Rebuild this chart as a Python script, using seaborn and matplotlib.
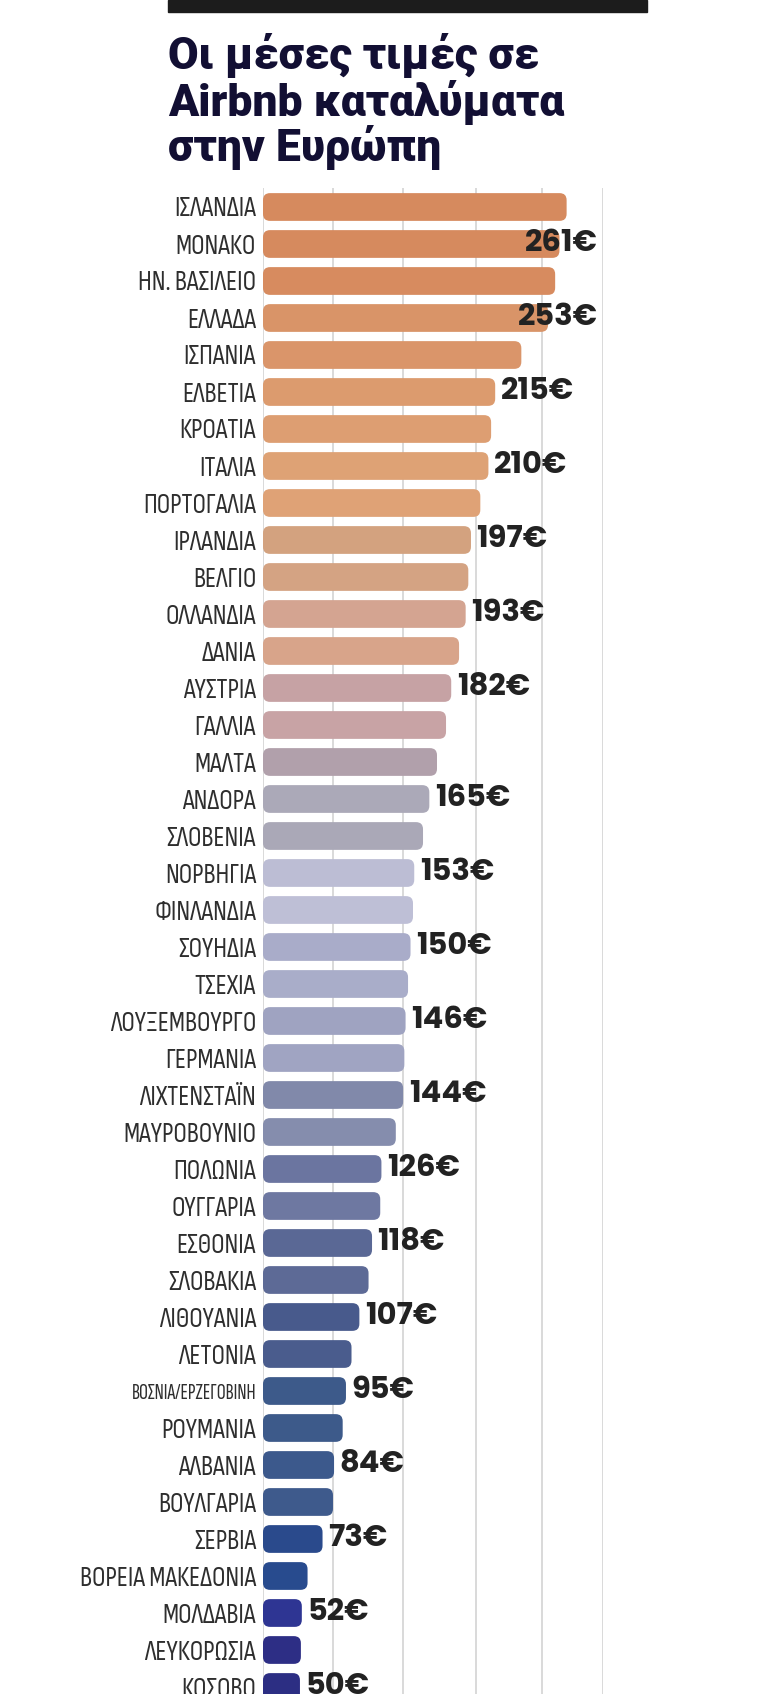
import numpy as np
import pandas as pd
import seaborn as sns
import matplotlib.pyplot as plt
from matplotlib import font_manager
from matplotlib.patches import FancyBboxPatch, Rectangle

# data read off the infographic (unlabelled bars estimated from their length)
countries = ['ΙΣΛΑΝΔΙΑ', 'ΜΟΝΑΚΟ', 'ΗΝ. ΒΑΣΙΛΕΙΟ', 'ΕΛΛΑΔΑ', 'ΙΣΠΑΝΙΑ', 'ΕΛΒΕΤΙΑ',
             'ΚΡΟΑΤΙΑ', 'ΙΤΑΛΙΑ', 'ΠΟΡΤΟΓΑΛΙΑ', 'ΙΡΛΑΝΔΙΑ', 'ΒΕΛΓΙΟ', 'ΟΛΛΑΝΔΙΑ',
             'ΔΑΝΙΑ', 'ΑΥΣΤΡΙΑ', 'ΓΑΛΛΙΑ', 'ΜΑΛΤΑ', 'ΑΝΔΟΡΑ', 'ΣΛΟΒΕΝΙΑ',
             'ΝΟΡΒΗΓΙΑ', 'ΦΙΝΛΑΝΔΙΑ', 'ΣΟΥΗΔΙΑ', 'ΤΣΕΧΙΑ', 'ΛΟΥΞΕΜΒΟΥΡΓΟ', 'ΓΕΡΜΑΝΙΑ',
             'ΛΙΧΤΕΝΣΤΑΪΝ', 'ΜΑΥΡΟΒΟΥΝΙΟ', 'ΠΟΛΩΝΙΑ', 'ΟΥΓΓΑΡΙΑ', 'ΕΣΘΟΝΙΑ', 'ΣΛΟΒΑΚΙΑ',
             'ΛΙΘΟΥΑΝΙΑ', 'ΛΕΤΟΝΙΑ', 'ΒΟΣΝΙΑ/ΕΡΖΕΓΟΒΙΝΗ', 'ΡΟΥΜΑΝΙΑ', 'ΑΛΒΑΝΙΑ',
             'ΒΟΥΛΓΑΡΙΑ', 'ΣΕΡΒΙΑ', 'ΒΟΡΕΙΑ ΜΑΚΕΔΟΝΙΑ', 'ΜΟΛΔΑΒΙΑ', 'ΛΕΥΚΟΡΩΣΙΑ', 'ΚΟΣΟΒΟ']
prices = [266, 261, 258, 253, 234, 215, 212, 210, 204, 197, 195, 193, 188, 182,
          178, 171, 165, 160, 153, 152, 150, 148, 146, 145, 144, 138, 126, 125,
          118, 115, 107, 100, 95, 92, 84, 83, 73, 58, 52, 51, 50]
labelled = [False, True, False, True, False, True, False, True, False, True,
            False, True, False, True, False, False, True, False, True, False,
            True, False, True, False, True, False, True, False, True, False,
            True, False, True, False, True, False, True, False, True, False, True]

bar_colors = ['#d68a5e', '#d68a5e', '#d78b5f', '#d99468', '#da956a', '#dc9b6e',
              '#dd9e72', '#dea275', '#dfa276', '#d3a27f', '#d4a383', '#d4a491',
              '#d8a48a', '#c6a2a4', '#c8a3a5', '#b1a0ab', '#aba9b8', '#aaa8b7',
              '#bcbdd4', '#bebfd6', '#a9acc9', '#a9adc9', '#9fa3c1', '#a0a4c2',
              '#8189aa', '#858dad', '#6b75a0', '#6e78a1', '#5a6895', '#5d6a96',
              '#485a8c', '#4a5c8d', '#3d5a8a', '#3d5a8a', '#3c598c', '#3e5a8c',
              '#2a4a8c', '#284b8e', '#2e3593', '#2d2e85', '#2c2e83']

sns.set_theme(style='white')
names = {f.name for f in font_manager.fontManager.ttflist}
def pick(*fams):
    return [f for f in fams if f in names] + ['DejaVu Sans']
label_font = pick('Sofia Sans Condensed', 'Roboto Condensed')
squeezed_font = pick('Sofia Sans Extra Condensed', 'Sofia Sans Condensed')
value_font = pick('Poppins', 'Inter')
title_font = pick('Roboto')
plt.rcParams['font.family'] = ['DejaVu Sans']

df = pd.DataFrame({'country': countries, 'price': prices})

W, H = 768, 1694
fig = plt.figure(figsize=(W / 100, H / 100), dpi=100)
fig.patch.set_facecolor('white')

# axes: bars start at x=263px, one row per 37px
top_px, pitch = 188.5, 37.0
ax_h = pitch * len(countries)
ax = fig.add_axes([263 / W, 1 - (top_px + ax_h) / H, 340 / W, ax_h / H])

sns.barplot(data=df, x='price', y='country', hue='country', palette=bar_colors,
            legend=False, orient='h', width=0.75, ax=ax, saturation=1)

# the original bars grow faster than the prices: mimic with a power scale
p = 1.26
fwd = lambda v: np.sign(v) * np.abs(v) ** p
inv = lambda v: np.sign(v) * np.abs(v) ** (1 / p)
ax.set_xscale('function', functions=(fwd, inv))
xmax = 291
ax.set_xlim(0, xmax)
ax.set_ylim(len(countries) - 0.5, -0.5)

grid_fracs = np.array([0, 0.206, 0.412, 0.626, 0.821, 1.0])
ax.set_xticks(inv(grid_fracs * fwd(xmax)))
ax.xaxis.grid(True, color='#cfcfcf', lw=1.1)
ax.yaxis.grid(False)
ax.set_axisbelow(True)
ax.tick_params(axis='x', length=0, labelbottom=False)
ax.tick_params(axis='y', length=0, pad=5)
ax.set_xlabel('')
ax.set_ylabel('')
for s in ax.spines.values():
    s.set_visible(False)

for lab in ax.get_yticklabels():
    lab.set_color('#2e2e2e')
    if '/' in lab.get_text():
        lab.set_fontfamily(squeezed_font)
        lab.set_fontsize(16)
    else:
        lab.set_fontfamily(label_font)
        lab.set_fontsize(19.5)

# rounded bars
fig.canvas.draw()
bb = ax.get_window_extent()
to_axes = ax.transData + ax.transAxes.inverted()
r = 7
for bar in list(ax.patches):
    x0, y0 = bar.get_x(), bar.get_y()
    (a0, b0), (a1, b1) = to_axes.transform([(x0, y0), (x0 + bar.get_width(), y0 + bar.get_height())])
    fb = FancyBboxPatch((min(a0, a1), min(b0, b1)), abs(a1 - a0), abs(b1 - b0),
                        boxstyle=f'round,pad=0,rounding_size={r / bb.width}',
                        mutation_aspect=bb.width / bb.height,
                        transform=ax.transAxes, facecolor=bar.get_facecolor(),
                        edgecolor='none', zorder=2, clip_on=False)
    ax.add_patch(fb)
    bar.set_visible(False)

# value labels
vsize = 22 if value_font[0] == 'Poppins' else 19
for i, (v, show) in enumerate(zip(prices, labelled)):
    if not show:
        continue
    style = dict(va='center', fontsize=vsize, fontweight='bold', color='#222222',
                 family=value_font, zorder=5, annotation_clip=False)
    if v >= 240:
        ax.annotate(f'{v}€', xy=(0.985, i), xycoords=('axes fraction', 'data'),
                    ha='right', **style)
    else:
        ax.annotate(f'{v}€', xy=(v, i), xytext=(4, 0), textcoords='offset points',
                    ha='left', **style)

# header rule and title
fig.add_artist(Rectangle((168 / W, 1 - 12 / H), (647 - 168) / W, 12 / H,
                         transform=fig.transFigure, color='#1c1c1c'))
title_lines = ['Οι μέσες τιμές σε', 'Airbnb καταλύματα', 'στην Ευρώπη']
for line, base in zip(title_lines, [69, 116, 161]):
    fig.text(168 / W, 1 - base / H, line, ha='left', va='baseline',
             fontsize=32, fontweight='black', color='#120f33', family=title_font)

fig.savefig('out.png', dpi=100)
